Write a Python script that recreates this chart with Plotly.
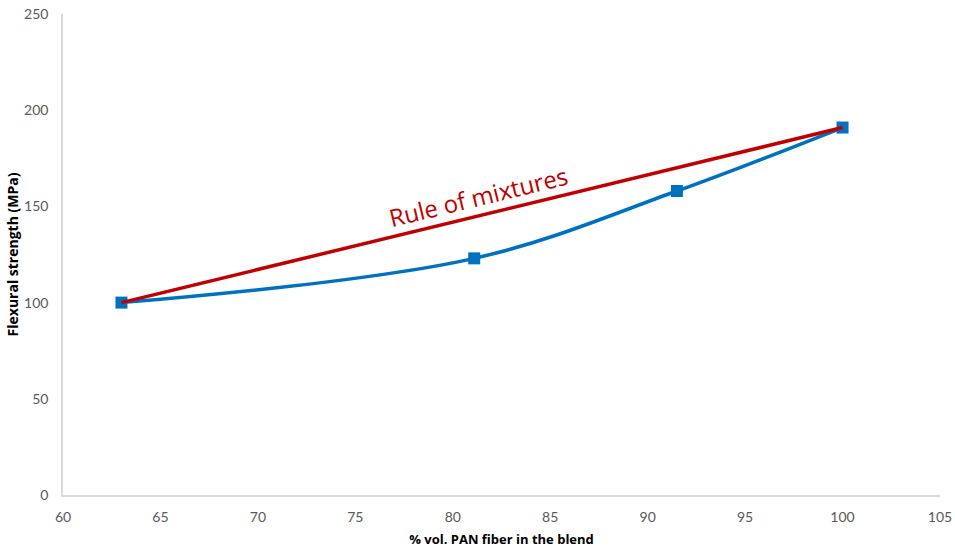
import plotly.graph_objects as go

# Measured flexural strength of the PAN fiber blends
pan_fraction = [63, 81.1, 91.5, 100]
flexural_strength = [100, 123, 158, 191]

# Linear rule-of-mixtures estimate between the two end points
rom_fraction = [63, 100]
rom_strength = [100, 191]

x_ticks = [60, 65, 70, 75, 80, 85, 90, 95, 100, 105]
y_ticks = [0, 50, 100, 150, 200, 250]

tick_font = dict(family="Liberation Sans Narrow, Arial Narrow, Lato, sans-serif", size=14, color="#595959")
x_title_font = dict(family="Open Sans, sans-serif", size=13, color="#000000")
y_title_font = dict(family="Open Sans, sans-serif", size=14, color="#000000")

fig = go.Figure()
fig.add_trace(go.Scatter(
    x=pan_fraction, y=flexural_strength, mode="lines+markers",
    line=dict(color="#0070C0", width=3.5, shape="spline", smoothing=1.0),
    marker=dict(symbol="square", size=12, color="#0070C0"),
    showlegend=False,
))
fig.add_trace(go.Scatter(
    x=rom_fraction, y=rom_strength, mode="lines",
    line=dict(color="#C00000", width=3.5),
    showlegend=False,
))

fig.add_annotation(
    x=81.3, y=155, text="Rule of mixtures", showarrow=False,
    textangle=-13.7, font=dict(family="Open Sans, sans-serif", size=24, color="#C00000"),
)

fig.update_layout(
    width=955, height=548,
    margin=dict(l=63, r=15, t=14, b=53),
    paper_bgcolor="white", plot_bgcolor="white",
    xaxis=dict(
        range=[60, 105], tickvals=x_ticks, showgrid=False, zeroline=False, automargin=False,
        showline=True, linecolor="#D9D9D9", linewidth=1.5,
        ticks="outside", ticklen=8, tickcolor="rgba(0,0,0,0)", tickfont=tick_font,
        title=dict(text="<b>% vol. PAN fiber in the blend</b>", font=x_title_font, standoff=12),
    ),
    yaxis=dict(
        range=[0, 250], tickvals=y_ticks, showgrid=False, zeroline=False, automargin=False,
        showline=True, linecolor="#D9D9D9", linewidth=1.5,
        ticks="outside", ticklen=10, tickcolor="rgba(0,0,0,0)", tickfont=tick_font,
        title=dict(text="<b>Flexural strength (MPa)</b>", font=y_title_font, standoff=2),
    ),
)

fig.write_html("out.html")
